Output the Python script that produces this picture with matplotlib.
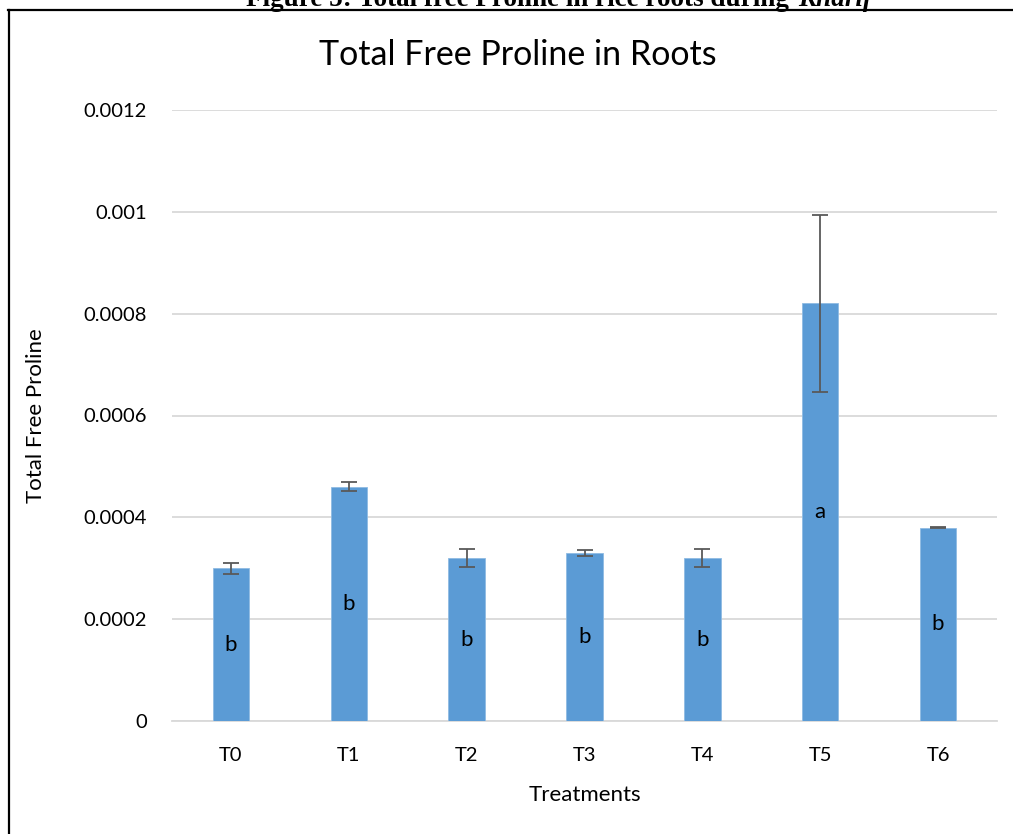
import matplotlib
matplotlib.use("Agg")
import matplotlib.pyplot as plt
from matplotlib.lines import Line2D
import numpy as np

categories = ["T0", "T1", "T2", "T3", "T4", "T5", "T6"]
means = [0.00030, 0.00046, 0.00032, 0.00033, 0.00032, 0.00082, 0.00038]
errors = [0.000011, 0.0000085, 0.000017, 0.000005, 0.000018, 0.000174, 0.000001]
letters = ["b", "b", "b", "b", "b", "a", "b"]
yticks = [0, 0.0002, 0.0004, 0.0006, 0.0008, 0.001, 0.0012]
ytick_labels = ["0", "0.0002", "0.0004", "0.0006", "0.0008", "0.001", "0.0012"]

W, H = 1013, 834
plt.rcParams['font.family'] = ['Lato', 'DejaVu Sans']
fig = plt.figure(figsize=(W/100, H/100), dpi=100)
ax = fig.add_axes([172/W, 1-721/H, (997-172)/W, (721-110)/H])

x = np.arange(len(categories))
ax.bar(x, means, width=0.31, color="#5B9BD5", edgecolor="#8fbbe3", linewidth=0.6, zorder=3)
ax.errorbar(x, means, yerr=errors, fmt="none", ecolor="#595959", elinewidth=1.3,
            capsize=6, capthick=1.3, zorder=4)
for xi, m, l in zip(x, means, letters):
    ax.text(xi, m/2, l, ha="center", va="center", fontsize=16, color="#000000", zorder=5)

ax.set_xlim(-0.5, len(categories)-0.5)
ax.set_ylim(0, 0.0012)
ax.set_yticks(yticks)
ax.set_yticklabels(ytick_labels)
ax.set_xticks(x)
ax.set_xticklabels(categories)
ax.tick_params(axis="both", length=0, labelsize=14.5, colors="#000000")
ax.tick_params(axis="y", pad=18)
ax.tick_params(axis="x", pad=19)
ax.grid(axis="y", color="#d9d9d9", linewidth=1.3, zorder=0)
for s in ["top", "right", "left"]:
    ax.spines[s].set_visible(False)
ax.spines["bottom"].set_color("#d9d9d9")
ax.spines["bottom"].set_linewidth(1.3)
ax.spines["bottom"].set_zorder(2)

ax.set_xlabel("Treatments", fontsize=16, labelpad=15)
ax.set_ylabel("Total Free Proline", fontsize=16, labelpad=27)
fig.text(518/W, 1-55/H, "Total Free Proline in Roots", ha="center", va="center", fontsize=24.5)

# caption (cut off at the top, as in the reference)
fig.text(796/W, 1-6/H, "Figure 5: Total free Proline in rice roots during ",
         ha="right", va="baseline", fontsize=19.5, fontweight="bold", family="Liberation Serif")
fig.text(798/W, 1-6/H, "Kharif",
         ha="left", va="baseline", fontsize=19.5, fontweight="bold", fontstyle="italic",
         family="Liberation Serif")

# frame border
fig.add_artist(Line2D([9/W, 9/W], [0, 1-10/H], color="black", linewidth=1.6, transform=fig.transFigure))
fig.add_artist(Line2D([8/W, 1], [1-10/H, 1-10/H], color="black", linewidth=1.6, transform=fig.transFigure))

fig.savefig("out.png", dpi=100)
